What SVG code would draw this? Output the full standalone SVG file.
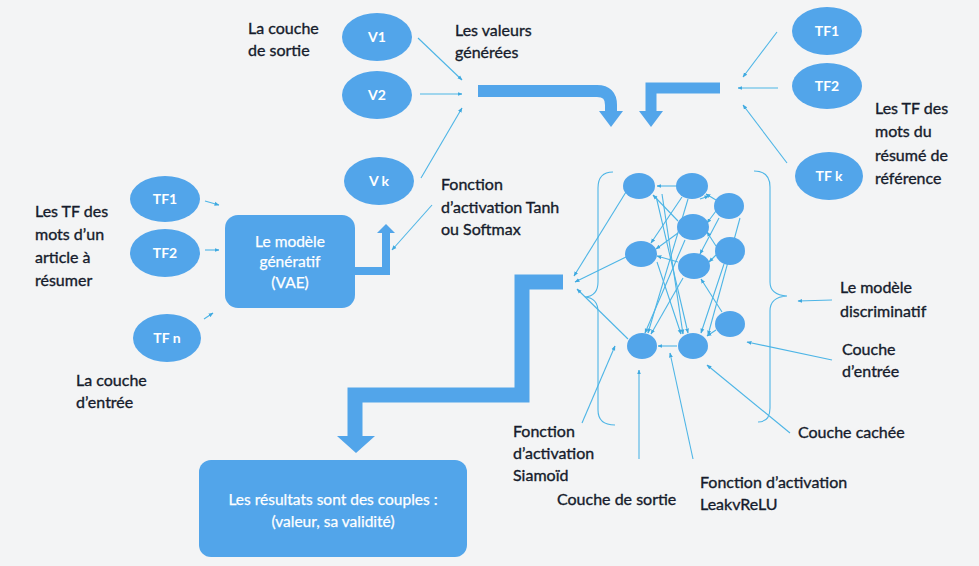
<svg xmlns="http://www.w3.org/2000/svg" width="979" height="566" viewBox="0 0 979 566">
  <defs>
    <style>
      .bg { fill: #f3f4f5; }
      .node { fill: #52a5ea; }
      .box { fill: #52a5ea; }
      .nlabel { font-family: Lato, "Liberation Sans", sans-serif; font-size: 14px; font-weight: 700; fill: #ffffff; text-anchor: middle; }
      .blabel { font-family: Lato, "Liberation Sans", sans-serif; font-size: 15.5px; fill: #ffffff; stroke: #ffffff; stroke-width: 0.25; text-anchor: middle; }
      .lbl { font-family: Lato, "Liberation Sans", sans-serif; font-size: 16px; fill: #161c2c; stroke: #161c2c; stroke-width: 0.35; }
      .thin { fill: none; stroke: #4db5e6; stroke-width: 1.1; marker-end: url(#tip); }
      .plain { fill: none; stroke: #4db5e6; stroke-width: 1.1; }
      .thick { fill: none; stroke: #52a5ea; }
      .head { fill: #52a5ea; }
    </style>
    <marker id="tip" viewBox="0 0 10 10" refX="9" refY="5" markerWidth="4.5" markerHeight="4.5" orient="auto">
      <path d="M0,1 L10,5 L0,9 z" fill="#3fa9e0"/>
    </marker>
  </defs>

  <rect class="bg" x="0" y="0" width="979" height="566"/>

  <!-- connectors -->
  <g id="connectors">
    <!-- generator outputs to merge point -->
    <line class="thin" x1="418" y1="38" x2="462" y2="80"/>
    <line class="thin" x1="420" y1="94" x2="462" y2="94"/>
    <line class="thin" x1="421" y1="178" x2="462" y2="108"/>
    <!-- reference TF to merge point -->
    <line class="thin" x1="777" y1="32" x2="743" y2="77"/>
    <line class="thin" x1="778" y1="88" x2="738" y2="88"/>
    <line class="thin" x1="787" y1="163" x2="743" y2="105"/>
    <!-- article TF to VAE -->
    <line class="thin" x1="205" y1="201" x2="219" y2="205"/>
    <line class="thin" x1="205" y1="250" x2="219" y2="250"/>
    <line class="thin" x1="204" y1="319" x2="213" y2="313"/>
    <!-- activation label pointer -->
    <line class="thin" x1="432" y1="205" x2="392" y2="250"/>

    <!-- thick flow arrows -->
    <path class="thick" stroke-width="12" d="M478,91 H597 Q611,91 611,105 V112"/>
    <polygon class="head" points="599,111 623,111 611,127"/>
    <path class="thick" stroke-width="11" d="M720,88 H651 V112"/>
    <polygon class="head" points="639,111 663,111 651,127"/>
    <path class="thick" stroke-width="8" d="M355,271 H386 V232"/>
    <polygon class="head" points="377,233 395,233 386,224"/>
    <path class="thick" stroke-width="15" d="M563,282 H522 V395 H355 V437"/>
    <polygon class="head" points="337,436 375,436 356,453"/>

    <!-- braces around the discriminator -->
    <path class="plain" d="M613,172 Q598,172 598,188 V282 Q598,296 585,297 Q598,298 598,312 V410 Q598,425 615,425"/>
    <path class="plain" d="M754,171 Q770,171 770,187 V282 Q770,295 787,296 Q770,297 770,311 V408 Q770,422 758,422"/>
    <line class="thin" x1="832" y1="300" x2="798" y2="301"/>

    <!-- discriminator internal links -->
    <line class="thin" x1="716" y1="200" x2="706" y2="194"/>
    <line class="thin" x1="716" y1="211" x2="707" y2="223"/>
    <line class="thin" x1="719" y1="218" x2="700" y2="254"/>
    <line class="thin" x1="716" y1="246" x2="707" y2="232"/>
    <line class="thin" x1="716" y1="255" x2="709" y2="262"/>
    <line class="thin" x1="724" y1="264" x2="701" y2="333"/>
    <line class="thin" x1="722" y1="312" x2="701" y2="279"/>
    <line class="thin" x1="716" y1="330" x2="707" y2="336"/>
    <line class="thin" x1="677" y1="186" x2="657" y2="186"/>
    <line class="thin" x1="682" y1="197" x2="651" y2="243"/>
    <line class="thin" x1="688" y1="199" x2="648" y2="333"/>
    <line class="thin" x1="678" y1="221" x2="653" y2="195"/>
    <line class="thin" x1="678" y1="233" x2="656" y2="249"/>
    <line class="thin" x1="685" y1="240" x2="645" y2="333"/>
    <line class="thin" x1="678" y1="262" x2="657" y2="256"/>
    <line class="thin" x1="683" y1="278" x2="651" y2="334"/>
    <line class="thin" x1="677" y1="346" x2="658" y2="346"/>
    <line class="thin" x1="656" y1="196" x2="688" y2="333"/>
    <line class="thin" x1="662" y1="194" x2="683" y2="334"/>
    <line class="thin" x1="657" y1="262" x2="681" y2="334"/>
    <line class="thin" x1="700" y1="199" x2="709" y2="196"/>
    <line class="thin" x1="740" y1="218" x2="708" y2="335"/>
    <!-- discriminator outputs -->
    <line class="thin" x1="626" y1="192" x2="574" y2="276"/>
    <line class="thin" x1="626" y1="257" x2="575" y2="282"/>
    <line class="thin" x1="628" y1="339" x2="577" y2="289"/>

    <!-- label pointers -->
    <line class="thin" x1="582" y1="423" x2="615" y2="346"/>
    <line class="thin" x1="639" y1="459" x2="639" y2="370"/>
    <line class="thin" x1="693" y1="459" x2="670" y2="353"/>
    <line class="thin" x1="790" y1="433" x2="707" y2="365"/>
    <line class="thin" x1="832" y1="360" x2="747" y2="342"/>
  </g>

  <!-- generated values -->
  <g id="v1"><ellipse class="node" cx="377" cy="37" rx="35" ry="24"/><text class="nlabel" x="377" y="42">V1</text></g>
  <g id="v2"><ellipse class="node" cx="377" cy="95" rx="35" ry="24"/><text class="nlabel" x="377" y="100">V2</text></g>
  <g id="vk"><ellipse class="node" cx="379" cy="181" rx="35" ry="24"/><text class="nlabel" x="379" y="186">V k</text></g>

  <!-- reference summary TF -->
  <g id="ref-tf1"><ellipse class="node" cx="827" cy="31" rx="35" ry="24"/><text class="nlabel" x="827" y="36">TF1</text></g>
  <g id="ref-tf2"><ellipse class="node" cx="827" cy="86" rx="35" ry="23"/><text class="nlabel" x="827" y="91">TF2</text></g>
  <g id="ref-tfk"><ellipse class="node" cx="829" cy="176" rx="34" ry="24"/><text class="nlabel" x="829" y="181">TF k</text></g>

  <!-- article TF -->
  <g id="art-tf1"><ellipse class="node" cx="165" cy="199" rx="35" ry="23"/><text class="nlabel" x="165" y="204">TF1</text></g>
  <g id="art-tf2"><ellipse class="node" cx="165" cy="253" rx="35" ry="24"/><text class="nlabel" x="165" y="258">TF2</text></g>
  <g id="art-tfn"><ellipse class="node" cx="167" cy="338" rx="34" ry="24"/><text class="nlabel" x="167" y="343">TF n</text></g>

  <!-- generative model -->
  <g id="vae">
    <rect class="box" x="225" y="215" width="130" height="93" rx="13"/>
    <text class="blabel" x="290" y="247">Le modèle</text>
    <text class="blabel" x="290" y="267">génératif</text>
    <text class="blabel" x="290" y="288">(VAE)</text>
  </g>

  <!-- results -->
  <g id="results">
    <rect class="box" x="199" y="460" width="268" height="97" rx="12"/>
    <text class="blabel" x="333" y="505">Les résultats sont des couples :</text>
    <text class="blabel" x="333" y="527">(valeur, sa validité)</text>
  </g>

  <!-- discriminator neurons -->
  <g id="discriminator">
    <ellipse class="node" cx="639" cy="186" rx="16" ry="13"/>
    <ellipse class="node" cx="641" cy="254" rx="16" ry="13"/>
    <ellipse class="node" cx="692" cy="186" rx="16" ry="13"/>
    <ellipse class="node" cx="693" cy="227" rx="16" ry="13"/>
    <ellipse class="node" cx="694" cy="266" rx="16" ry="13"/>
    <ellipse class="node" cx="729" cy="206" rx="15" ry="13"/>
    <ellipse class="node" cx="730" cy="251" rx="15" ry="14"/>
    <ellipse class="node" cx="730" cy="324" rx="15" ry="13"/>
    <ellipse class="node" cx="642" cy="346" rx="15" ry="13"/>
    <ellipse class="node" cx="693" cy="346" rx="15" ry="13"/>
  </g>

  <!-- labels -->
  <g id="labels">
    <text class="lbl" x="248" y="34">La couche</text>
    <text class="lbl" x="248" y="56">de sortie</text>
    <text class="lbl" x="455" y="36">Les valeurs</text>
    <text class="lbl" x="455" y="58">générées</text>
    <text class="lbl" x="875" y="114">Les TF des</text>
    <text class="lbl" x="875" y="137">mots du</text>
    <text class="lbl" x="875" y="161">résumé de</text>
    <text class="lbl" x="875" y="184">référence</text>
    <text class="lbl" x="35" y="217">Les TF des</text>
    <text class="lbl" x="35" y="240">mots d’un</text>
    <text class="lbl" x="35" y="263">article à</text>
    <text class="lbl" x="35" y="286">résumer</text>
    <text class="lbl" x="76" y="386">La couche</text>
    <text class="lbl" x="76" y="408">d’entrée</text>
    <text class="lbl" x="441" y="190">Fonction</text>
    <text class="lbl" x="441" y="213">d’activation Tanh</text>
    <text class="lbl" x="441" y="235">ou Softmax</text>
    <text class="lbl" x="840" y="293">Le modèle</text>
    <text class="lbl" x="840" y="317">discriminatif</text>
    <text class="lbl" x="842" y="355">Couche</text>
    <text class="lbl" x="842" y="377">d’entrée</text>
    <text class="lbl" x="798" y="438">Couche cachée</text>
    <text class="lbl" x="513" y="437">Fonction</text>
    <text class="lbl" x="513" y="459">d’activation</text>
    <text class="lbl" x="513" y="481">Siamoïd</text>
    <text class="lbl" x="557" y="505">Couche de sortie</text>
    <text class="lbl" x="700" y="488">Fonction d’activation</text>
    <text class="lbl" x="700" y="510">LeakvReLU</text>
  </g>
</svg>
